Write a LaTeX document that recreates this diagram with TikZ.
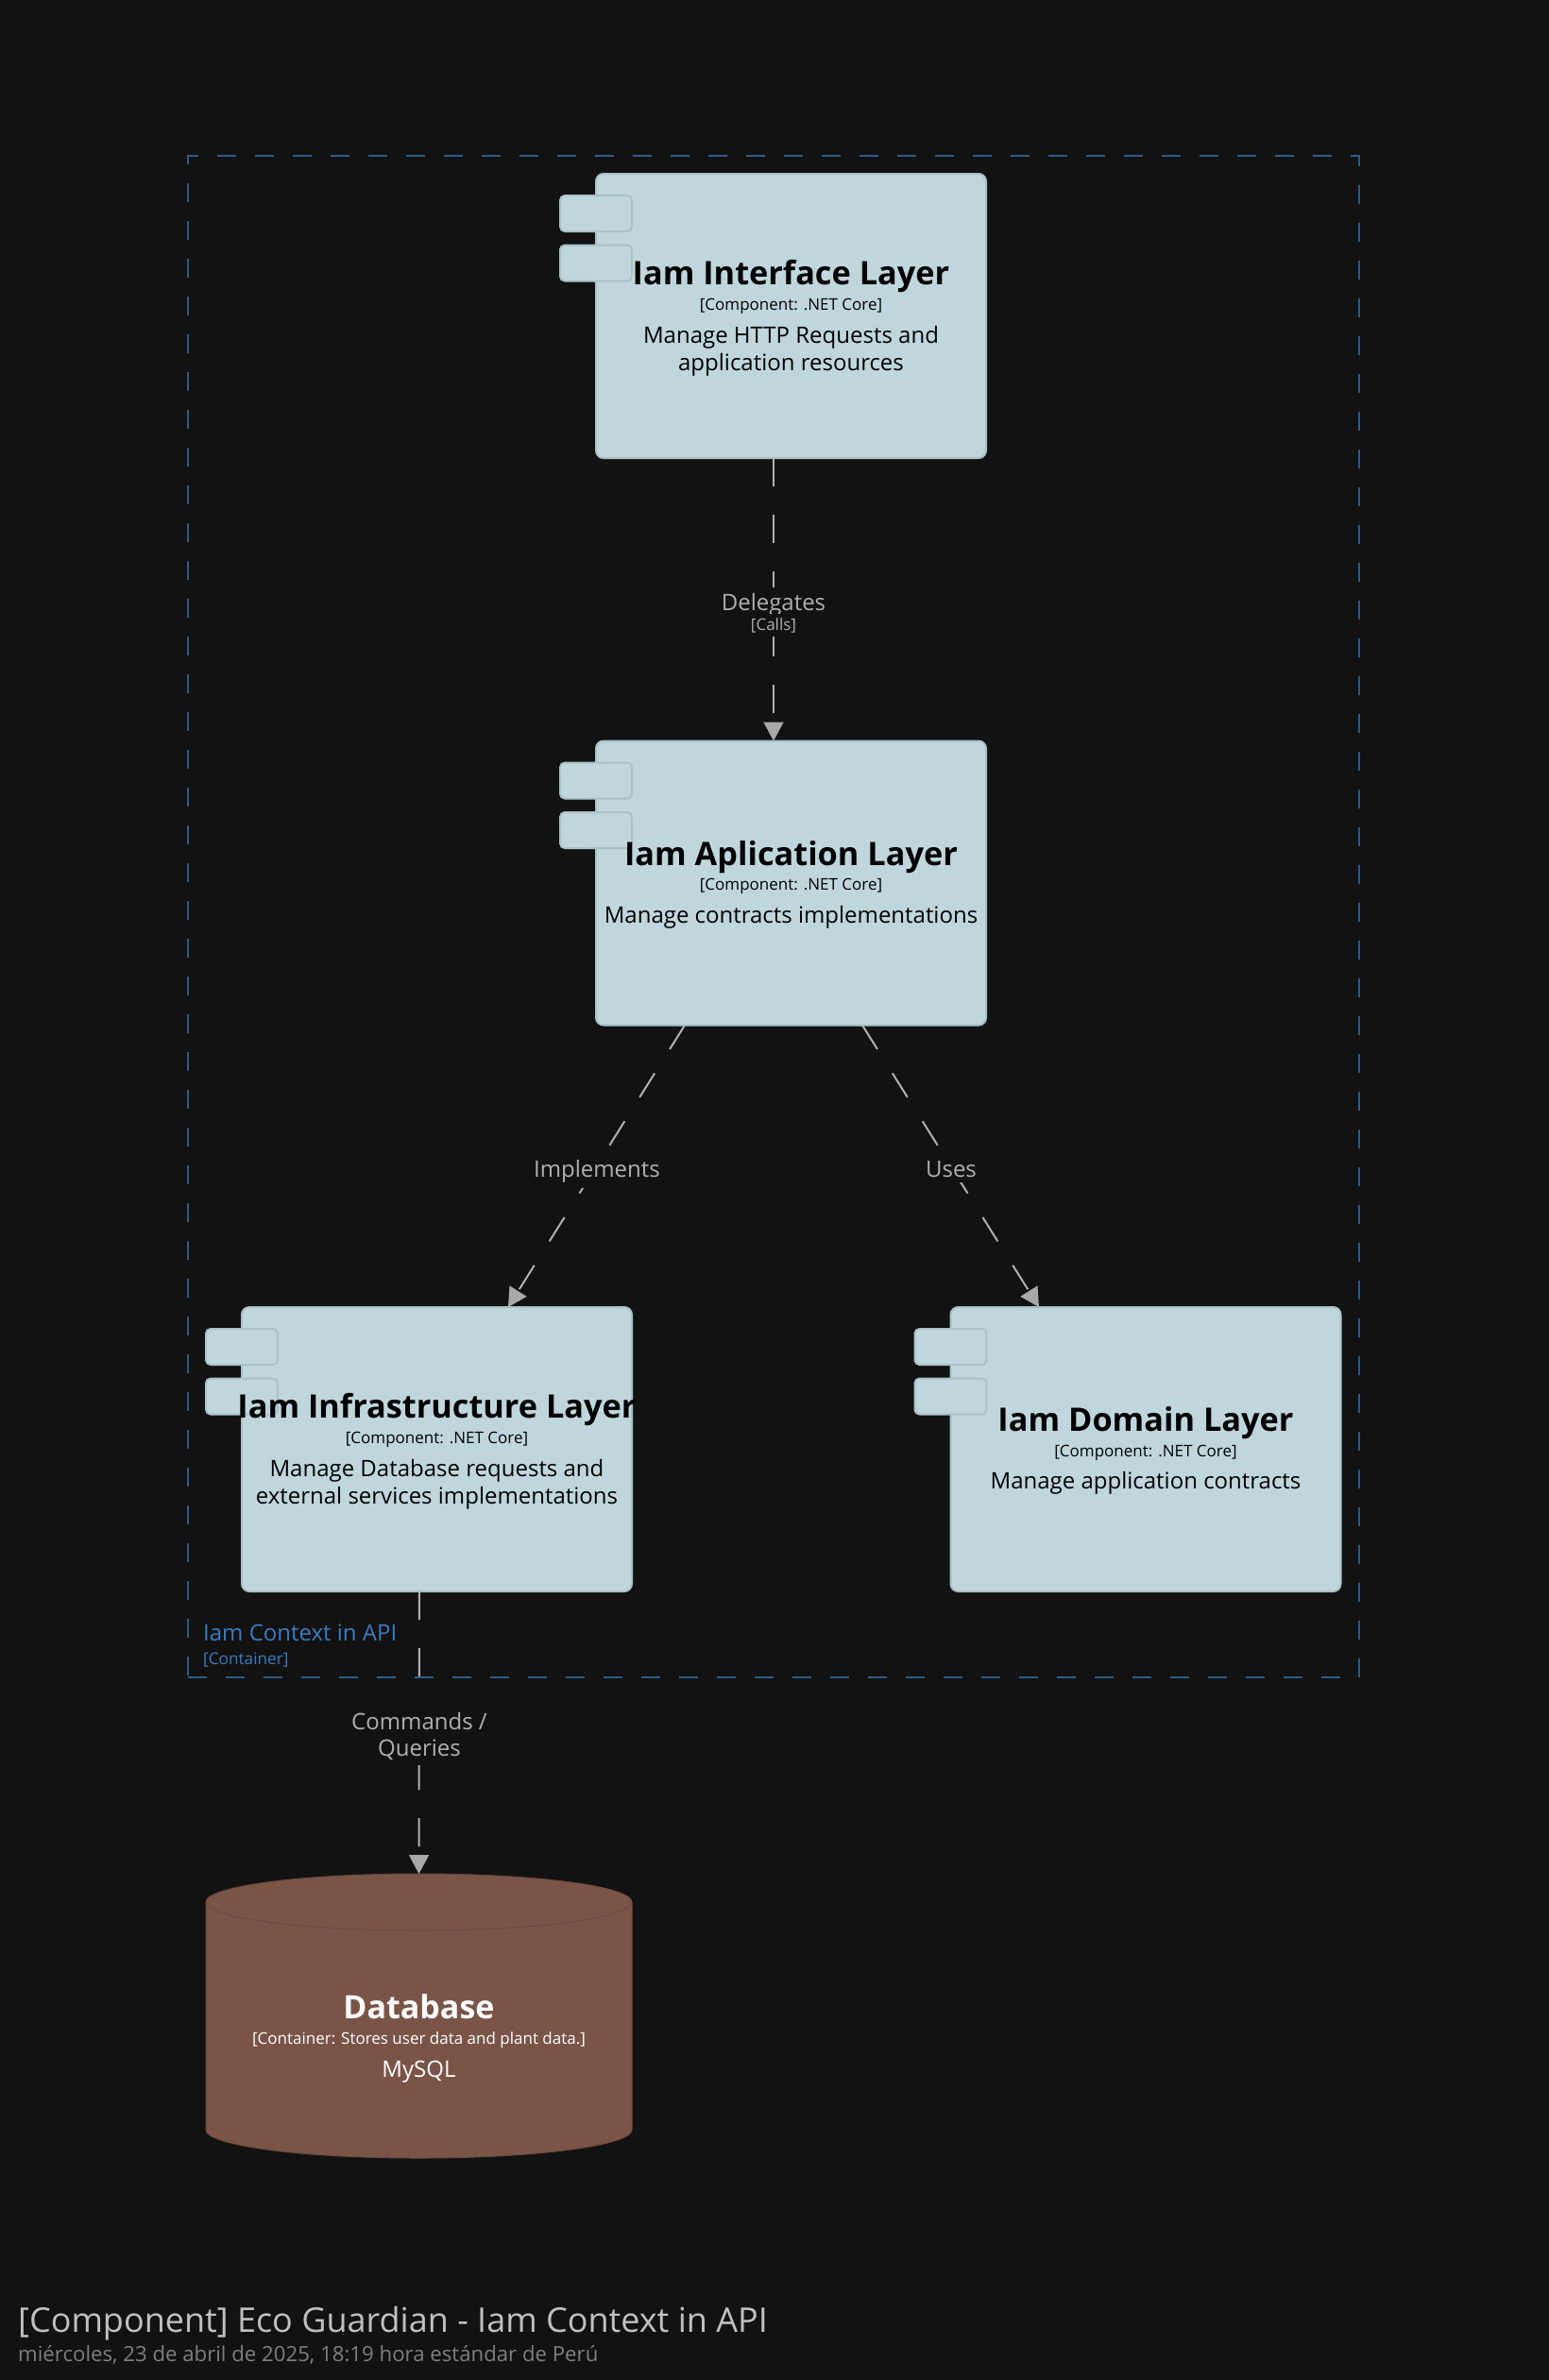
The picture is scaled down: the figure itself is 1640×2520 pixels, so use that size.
\documentclass[tikz,border=0pt]{standalone}
\usepackage{fontspec}
\setmainfont{Open Sans}
\usetikzlibrary{arrows.meta,calc}

\definecolor{bg}{HTML}{121212}
\definecolor{compfill}{HTML}{BFD7DC}
\definecolor{compline}{HTML}{A9C2C8}
\definecolor{relline}{HTML}{B0B0B0}
\definecolor{relhead}{HTML}{A8A8A8}
\definecolor{reltext}{HTML}{B0B0B0}
\definecolor{dbfill}{HTML}{7A5547}
\definecolor{dbline}{HTML}{6A4A3E}
\definecolor{contline}{HTML}{2E5A87}
\definecolor{conttext}{HTML}{3B7BBF}
\definecolor{foottitle}{HTML}{C0C0C0}
\definecolor{footdate}{HTML}{7F7F7F}

\newcommand\fsz[2]{\fontsize{#1}{#2}\selectfont}

\tikzset{
  comp/.style={draw=compline, fill=compfill, line width=2pt, rounded corners=8pt,
    minimum width=413pt, minimum height=301pt, inner sep=0pt, outer sep=0pt},
  comptab/.style={draw=compline, fill=compfill, line width=2pt, rounded corners=5pt,
    minimum width=76pt, minimum height=38pt, inner sep=0pt, outer sep=0pt},
  ctitle/.style={anchor=base, inner sep=0pt, text=black, font=\bfseries\fsz{34.3}{40}},
  ctech/.style={anchor=base, inner sep=0pt, text=black, font=\fsz{17}{20}},
  cdesc/.style={anchor=base, inner sep=0pt, text=black, font=\fsz{24}{29}},
  rel/.style={draw=relline, line width=2pt, dash pattern=on 30pt off 30pt,
    -{Triangle[length=20pt,width=21pt,fill=relhead,color=relhead]}},
  rellabel/.style={anchor=base, fill=bg, inner xsep=3pt, inner ysep=6pt, text=reltext, font=\fsz{24}{28}},
  reltech/.style={anchor=base, fill=bg, inner xsep=3pt, inner ysep=4pt, text=reltext, font=\fsz{17}{20}},
  boundary/.style={draw=contline, line width=2pt, dash pattern=on 20pt off 20pt,
    inner sep=0pt, outer sep=0pt},
  dbtext/.style={anchor=base, inner sep=0pt, text=white},
}

\begin{document}
\begin{tikzpicture}[x=1pt,y=-1pt]
\fill[bg] (0,0) rectangle (1640,2520);
\useasboundingbox (0,0) rectangle (1640,2520);

% container boundary
\node[boundary, minimum width=1240pt, minimum height=1611pt, anchor=north west] (cont) at (199,165) {};
\node[anchor=base west, inner sep=0pt, text=conttext, font=\fsz{24}{28}] (contName) at (215,1737) {Iam Context in API};
\node[anchor=base west, inner sep=0pt, text=conttext, font=\fsz{17.2}{20}] (contTech) at (215,1762) {[Container]};

% component boxes
\node[comp] (iface)  at (837.5,334.5) {};
\node[comp] (app)    at (837.5,935) {};
\node[comp] (infra)  at (462.5,1534.5) {};
\node[comp] (domain) at (1213,1534.5) {};

% component tabs
\foreach \c in {iface,app,infra,domain}{
  \node[comptab] (\c TabA) at ($(\c.north west)+(0,42)$) {};
  \node[comptab] (\c TabB) at ($(\c.north west)+(0,94.5)$) {};
}

% component texts
\node[ctitle] (ifaceTitle) at ($(iface.center)+(0,-33.5)$) {Iam Interface Layer};
\node[ctech]  (ifaceTech)  at ($(iface.center)+(0,-6)$) {[Component: .NET Core]};
\node[cdesc]  (ifaceDescA) at ($(iface.center)+(0,28.5)$) {Manage HTTP Requests and};
\node[cdesc]  (ifaceDescB) at ($(iface.center)+(0,57.5)$) {application resources};

\node[ctitle] (appTitle) at ($(app.center)+(0,-19)$) {Iam Aplication Layer};
\node[ctech]  (appTech)  at ($(app.center)+(0,7.5)$) {[Component: .NET Core]};
\node[cdesc]  (appDesc)  at ($(app.center)+(0,42)$) {Manage contracts implementations};

\node[ctitle] (infraTitle) at ($(infra.center)+(0,-33.5)$) {Iam Infrastructure Layer};
\node[ctech]  (infraTech)  at ($(infra.center)+(0,-6)$) {[Component: .NET Core]};
\node[cdesc]  (infraDescA) at ($(infra.center)+(0,28.5)$) {Manage Database requests and};
\node[cdesc]  (infraDescB) at ($(infra.center)+(0,57.5)$) {external services implementations};

\node[ctitle] (domainTitle) at ($(domain.center)+(0,-19)$) {Iam Domain Layer};
\node[ctech]  (domainTech)  at ($(domain.center)+(0,7.5)$) {[Component: .NET Core]};
\node[cdesc]  (domainDesc)  at ($(domain.center)+(0,42)$) {Manage application contracts};

% database
\node[minimum width=451pt, minimum height=301pt, inner sep=0pt, outer sep=0pt] (db) at (443.5,2134.5) {};
\filldraw[fill=dbfill, draw=dbline, line width=1pt]
  ($(db.west)+(0,-120.5)$) -- ($(db.west)+(0,120.5)$)
  arc[start angle=180, end angle=0, x radius=225.5, y radius=30]
  -- ($(db.east)+(0,-120.5)$)
  arc[start angle=0, end angle=-180, x radius=225.5, y radius=30] -- cycle;
\draw[dbline, line width=1pt] ($(db.west)+(0,-120.5)$)
  arc[start angle=180, end angle=0, x radius=225.5, y radius=30];
\node[dbtext, font=\bfseries\fsz{34}{38}] (dbTitle) at (443.5,2137) {Database};
\node[dbtext, font=\fsz{17}{20}] (dbTech) at (443.5,2164) {[Container: Stores user data and plant data.]};
\node[dbtext, font=\fsz{24}{28}] (dbDesc) at (443.5,2199) {MySQL};

% relationships
\draw[rel] ($(iface.south)+(-18.5,0)$) -- ($(app.north)+(-18.5,0)$);
\draw[rel] ($(app.south)+(-112.5,0)$) -- ($(infra.north)+(75.5,0)$);
\draw[rel] ($(app.south)+(75.5,0)$) -- ($(domain.north)+(-113,0)$);
\draw[rel] ($(infra.south)+(-18.5,0)$) -- (db.north);

% relationship labels
\node[rellabel] (delegLbl)  at (819,646) {Delegates};
\node[reltech]  (delegTech) at (819,667) {[Calls]};
\node[rellabel] (implLbl)   at (632,1246) {Implements};
\node[rellabel] (usesLbl)   at (1007,1246) {Uses};
\node[rellabel, inner ysep=10pt] (cmdLblA) at (444,1831) {Commands /};
\node[rellabel] (cmdLblB)   at (444,1859) {Queries};

% footer
\node[anchor=base west, inner sep=0pt, text=foottitle, font=\fsz{36}{44}] (footTitle) at (19,2469) {[Component] Eco Guardian - Iam Context in API};
\node[anchor=base west, inner sep=0pt, text=footdate, font=\fsz{22.2}{28}] (footDate) at (19,2500) {miércoles, 23 de abril de 2025, 18:19 hora estándar de Perú};
\end{tikzpicture}
\end{document}
